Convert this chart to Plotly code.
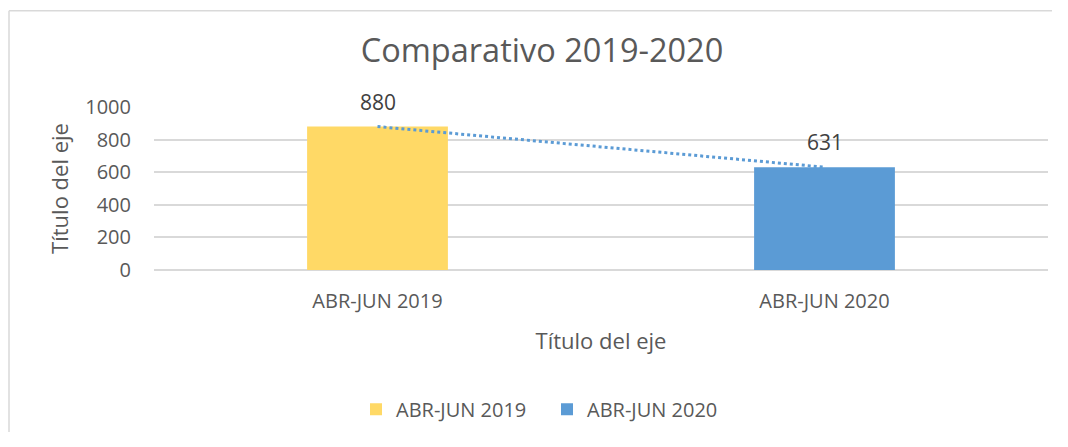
import numpy as np
import plotly.graph_objects as go

categories = ["ABR-JUN 2019", "ABR-JUN 2020"]
values = [880, 631]
bar_colors = ["#FFD966", "#5B9BD5"]
trend_color = "#5B9BD5"
title_text = "Comparativo 2019-2020"
y_title = "Título del eje"
x_title = "Título del eje"
y_ticks = [0, 200, 400, 600, 800, 1000]

FONT = "Open Sans"
TXT = "#595959"
GRID = "#D9D9D9"

# figure sits inside the page body margin
OFFX, OFFY = 8, 7
W, H = 1044, 424
PL, PR, PT, PB = 154, 1048, 106, 271  # plot area in page pixels

fig = go.Figure()
for cat, val, col in zip(categories, values, bar_colors):
    fig.add_trace(go.Bar(x=[cat], y=[val], name=cat, marker=dict(color=col, line=dict(width=0)),
                         width=0.315, hoverinfo="x+y"))

# linear trendline fitted to the series
idx = np.arange(len(values))
slope, intercept = np.polyfit(idx, values, 1)
trend = slope * idx + intercept
fig.add_trace(go.Scatter(x=categories, y=trend, mode="lines", showlegend=False,
                         line=dict(color=trend_color, width=3, dash="dot")))

for cat, val in zip(categories, values):
    fig.add_annotation(x=cat, y=val, text=str(val), showarrow=False, yshift=25,
                       font=dict(family=FONT, size=21, color="#404040"))

pw, ph = PR - PL, PB - PT
bx, by = (9 - PL) / pw, (PB - 8.5) / ph
# chart area border (left and top edges visible)
fig.add_shape(type="line", xref="paper", yref="paper", x0=bx, x1=bx, y0=-2, y1=by,
              line=dict(color=GRID, width=1.5), layer="below")
fig.add_shape(type="line", xref="paper", yref="paper", x0=bx, x1=1.3, y0=by, y1=by,
              line=dict(color=GRID, width=1.5), layer="below")

fig.update_layout(
    width=W, height=H,
    margin=dict(l=PL - OFFX, r=W - (PR - OFFX), t=PT - OFFY, b=H - (PB - OFFY), pad=0),
    paper_bgcolor="white", plot_bgcolor="white",
    barmode="overlay",
    font=dict(family=FONT, color=TXT),
    title=dict(text=title_text, x=(542 - OFFX) / W, xanchor="center", xref="container",
               y=1 - (50 - OFFY) / H, yanchor="middle", yref="container",
               font=dict(family=FONT, size=32.5, color=TXT)),
    xaxis=dict(type="category", showgrid=False, showline=False, zeroline=False,
               tickfont=dict(family=FONT, size=20, color=TXT), ticks="", ticklabelstandoff=17,
               title=dict(text=x_title, standoff=20, font=dict(family=FONT, size=22, color=TXT))),
    yaxis=dict(range=[0, 1000], tickvals=y_ticks, showgrid=True, gridcolor=GRID, gridwidth=2,
               zeroline=True, zerolinecolor=GRID, zerolinewidth=2, showline=False,
               tickfont=dict(family=FONT, size=20, color=TXT), ticks="", ticklabelstandoff=22,
               title=dict(text=y_title, standoff=10, font=dict(family=FONT, size=22, color=TXT))),
    legend=dict(orientation="h", x=(356 - PL) / pw, xanchor="left", y=-(412 - PB) / ph, yanchor="middle",
                entrywidth=146, entrywidthmode="pixels",
                font=dict(family=FONT, size=20, color=TXT), bgcolor="rgba(0,0,0,0)"),
    showlegend=True,
)

fig.write_html("out.html")
